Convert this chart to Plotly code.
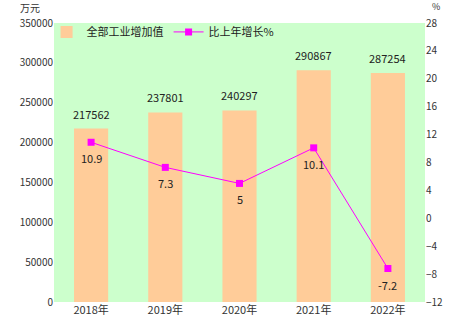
import plotly.graph_objects as go

years = ["2018年", "2019年", "2020年", "2021年", "2022年"]
value_added = [217562, 237801, 240297, 290867, 287254]
growth = [10.9, 7.3, 5, 10.1, -7.2]
growth_labels = ["10.9", "7.3", "5", "10.1", "-7.2"]

font_family = "Noto Sans CJK SC, DejaVu Sans, sans-serif"

fig = go.Figure()
fig.add_trace(go.Bar(
    x=years, y=value_added, name="全部工业增加值",
    marker=dict(color="#FFCC99", line=dict(width=0)),
    width=0.46,
))
fig.add_trace(go.Scatter(
    x=years, y=growth, name="比上年增长%", yaxis="y2",
    mode="lines+markers",
    line=dict(color="#FF00FF", width=1),
    marker=dict(symbol="square", size=7, color="#FF00FF"),
))

annotations = []
for yr, v in zip(years, value_added):
    annotations.append(dict(x=yr, y=v, xref="x", yref="y", text=str(v),
                            showarrow=False, yanchor="bottom", yshift=5,
                            font=dict(size=11, color="#222222")))
for yr, g, lab in zip(years, growth, growth_labels):
    annotations.append(dict(x=yr, y=g, xref="x", yref="y2", text=lab,
                            showarrow=False, yanchor="middle", yshift=-16,
                            font=dict(size=11, color="#222222")))
annotations += [
    dict(text="万元", xref="paper", yref="paper", x=-0.065, y=1.0, xanchor="center",
         yanchor="bottom", yshift=6, showarrow=False, font=dict(size=10)),
    dict(text="%", xref="paper", yref="paper", x=1.03, y=1.0, xanchor="center",
         yanchor="bottom", yshift=8, showarrow=False, font=dict(size=9)),
]

fig.update_layout(
    width=454, height=334,
    margin=dict(l=54, r=29, t=23, b=32),
    paper_bgcolor="white",
    plot_bgcolor="#CCFFCC",
    font=dict(family=font_family, size=10, color="#333333"),
    showlegend=True,
    legend=dict(orientation="h", x=-0.02, y=1.02, xanchor="left", yanchor="top",
                bgcolor="rgba(0,0,0,0)", font=dict(size=11, color="#222222"),
                itemwidth=30, traceorder="normal"),
    xaxis=dict(showgrid=False, zeroline=False, ticks="", tickfont=dict(size=11)),
    yaxis=dict(range=[0, 350000], dtick=50000, showgrid=False, zeroline=False,
               tickfont=dict(size=10), ticks="", tickformat="d"),
    yaxis2=dict(range=[-12, 28], dtick=4, overlaying="y", side="right",
                showgrid=False, zeroline=False, tickfont=dict(size=10), ticks=""),
    annotations=annotations,
)

fig.write_html("out.html")
